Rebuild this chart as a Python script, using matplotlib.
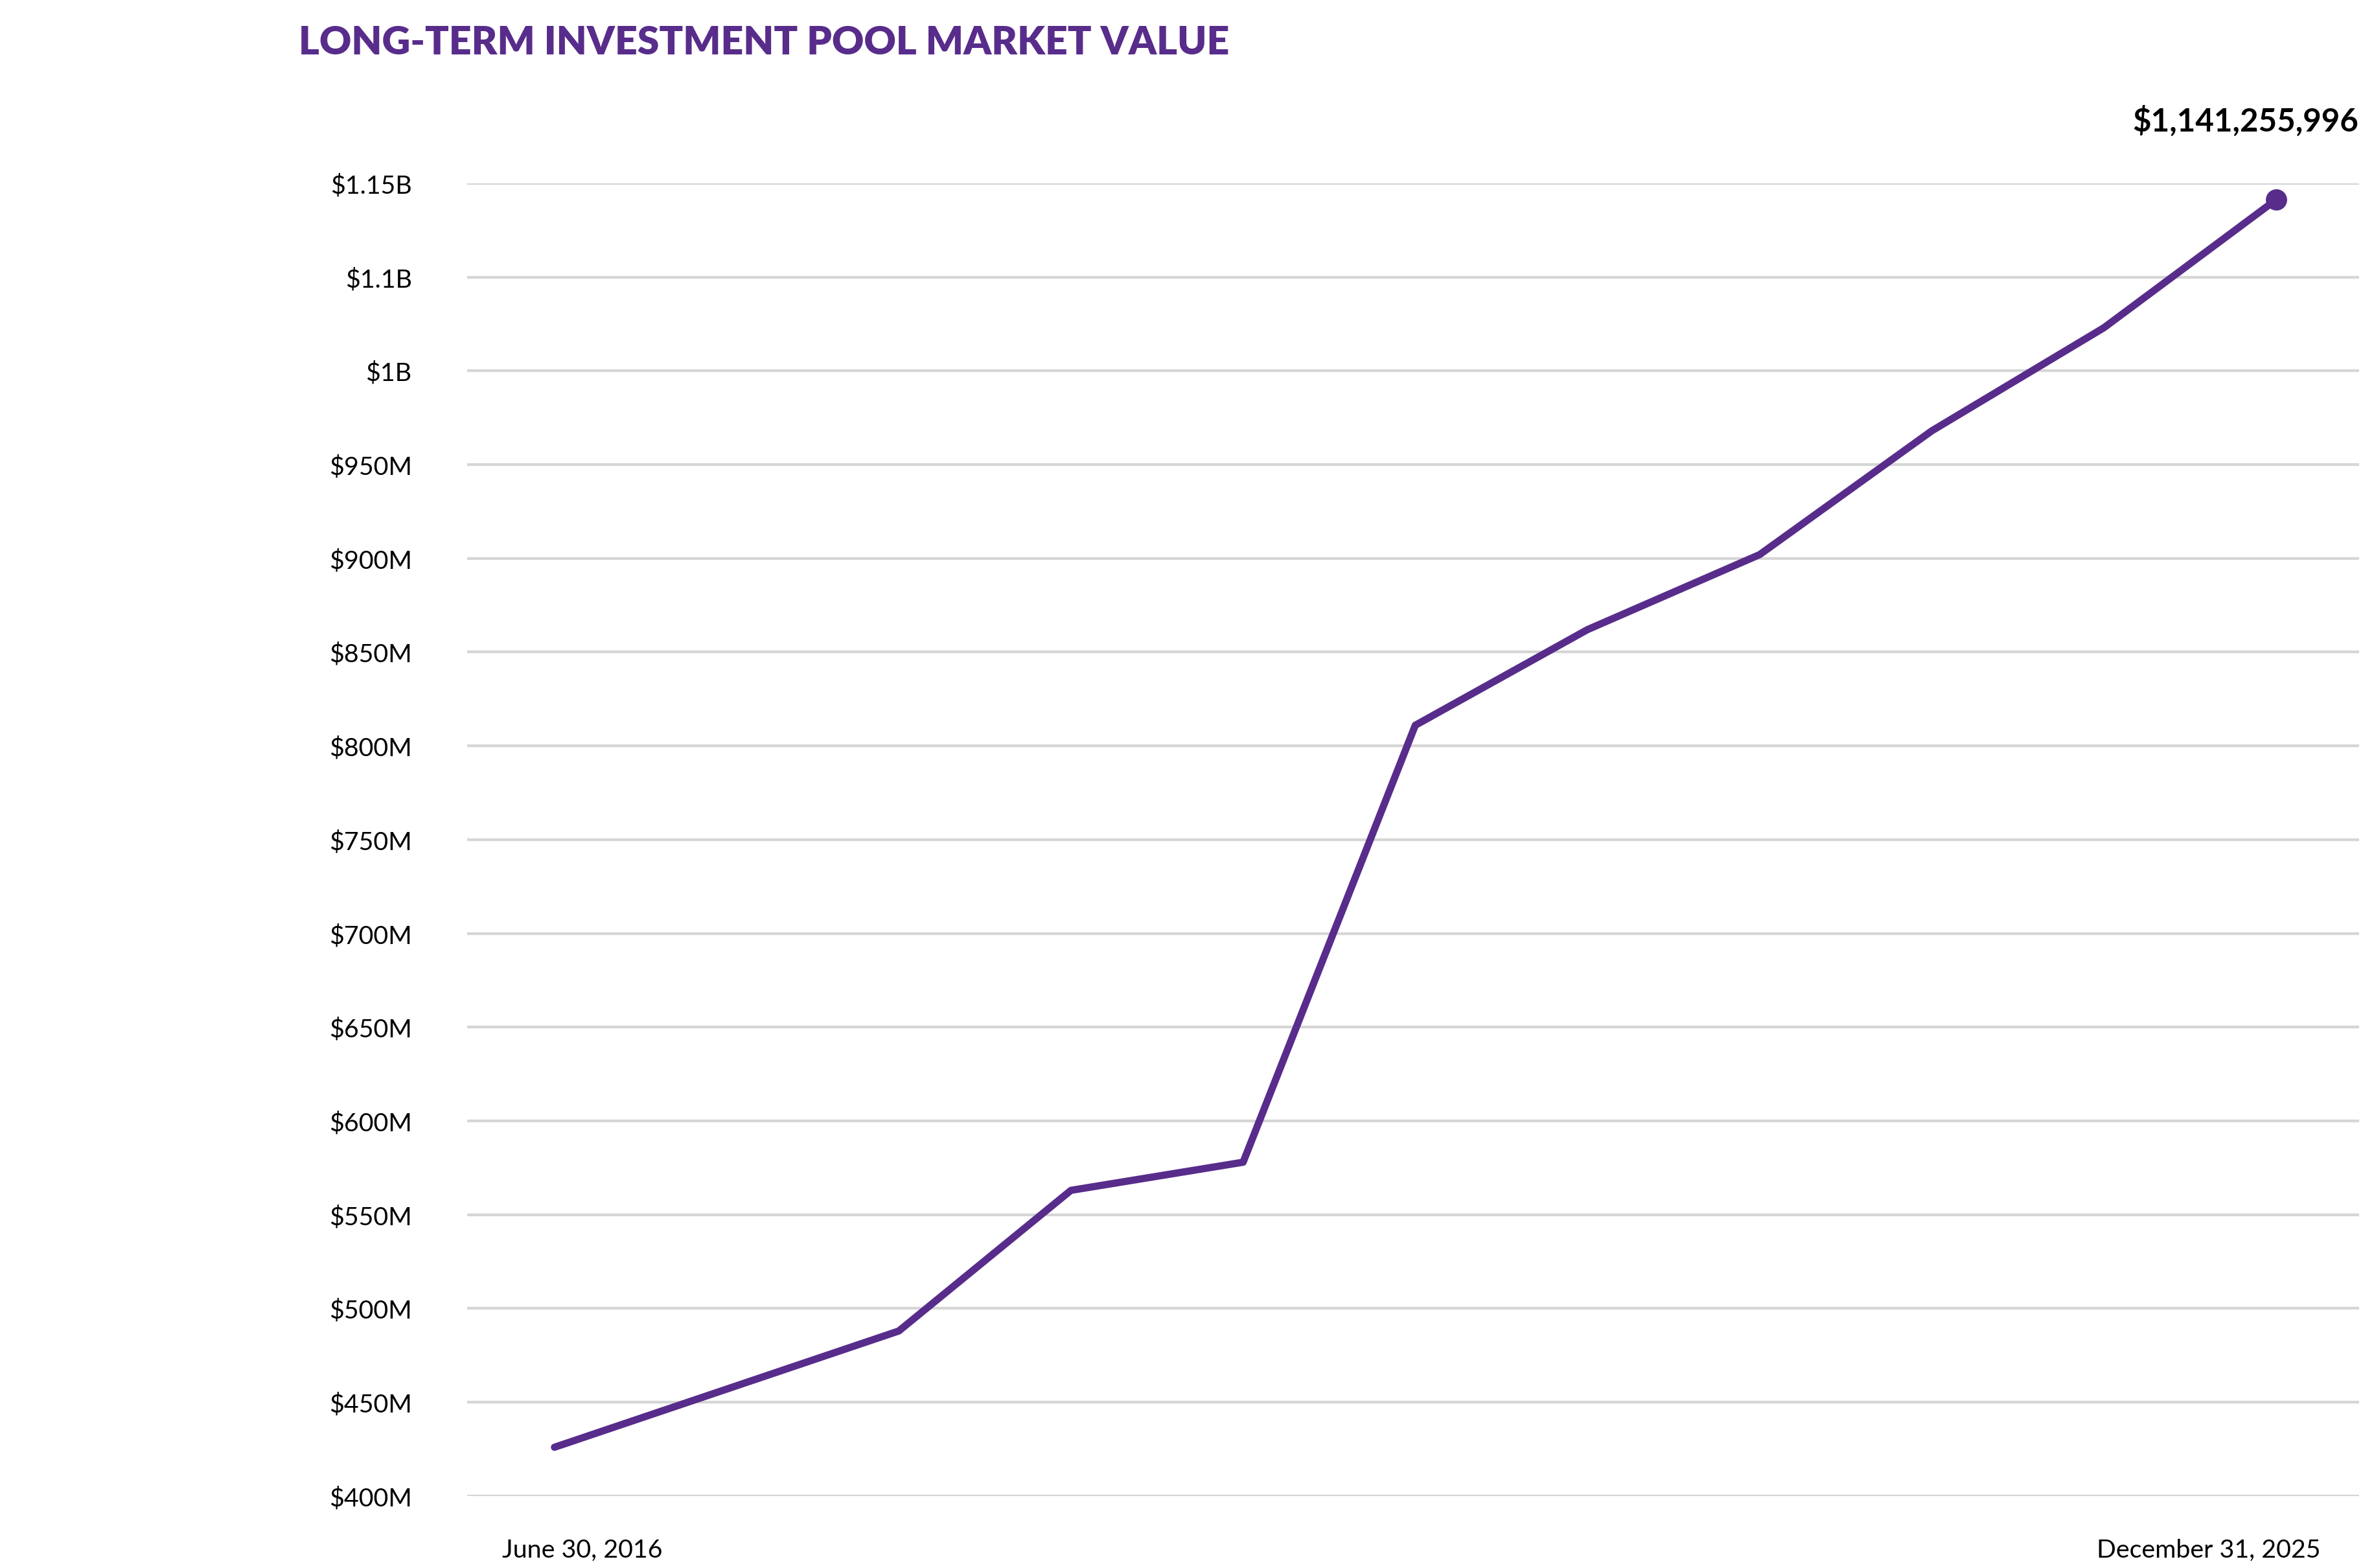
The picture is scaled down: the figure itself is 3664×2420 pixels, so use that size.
import matplotlib
matplotlib.use("Agg")
import matplotlib.pyplot as plt

x_idx = [0, 1, 2, 3, 4, 5, 6, 7, 8, 9, 10]
values_m = [476, 507, 538, 613, 628, 861, 912, 952, 1018, 1073, 1141.255996]
tick_vals = [450, 500, 550, 600, 650, 700, 750, 800, 850, 900, 950, 1000, 1050, 1100, 1150]
tick_labels = ["$400M", "$450M", "$500M", "$550M", "$600M", "$650M", "$700M", "$750M",
               "$800M", "$850M", "$900M", "$950M", "$1B", "$1.1B", "$1.15B"]
x_labels = ["June 30, 2016", "December 31, 2025"]
title = "LONG-TERM INVESTMENT POOL MARKET VALUE"
end_label = "$1,141,255,996"

purple = "#582c8b"
plt.rcParams['font.family'] = ['Lato', 'DejaVu Sans']
plt.rcParams['text.color'] = 'black'
plt.rcParams['ytick.color'] = 'black'

fig = plt.figure(figsize=(15.5, 10.24), dpi=236.4)
W, H = 1550, 1024
ax = fig.add_axes([305 / W, 1 - 977 / H, (1540 - 305) / W, (977 - 120) / H])

unit = (1486 - 362) / 10
ax.set_xlim(-(362 - 305) / unit, 10 + (1540 - 1486) / unit)
ax.set_ylim(450, 1150)

ax.plot(x_idx, values_m, color=purple, lw=3.4, solid_capstyle='round', clip_on=False, zorder=3)
ax.plot([x_idx[-1]], [values_m[-1]], 'o', color=purple, ms=9, clip_on=False, zorder=4)
ax.annotate(end_label, (1.0, values_m[-1]), xycoords=('axes fraction', 'data'),
            xytext=(0, 30), textcoords='offset points', ha='right', va='bottom',
            fontsize=15, fontweight='bold', color='black', annotation_clip=False)

ax.set_yticks(tick_vals)
ax.set_yticklabels(tick_labels, fontsize=12)
ax.tick_params(axis='y', length=0, pad=26, labelcolor='black')
ax.set_xticks([])
for v in tick_vals:
    ax.axhline(v, color='#d6d6d6', lw=1.3, zorder=1)
for s in ax.spines.values():
    s.set_visible(False)

fig.text(380 / W, 1 - 1012 / H, x_labels[0], ha='center', va='center', fontsize=12, color='black')
fig.text(1442 / W, 1 - 1012 / H, x_labels[1], ha='center', va='center', fontsize=12, color='black')
fig.text(195 / W, 1 - 28 / H, title, ha='left', va='center', fontsize=18.5,
         fontweight='heavy', color=purple)

fig.savefig("out.png", dpi=236.4)
